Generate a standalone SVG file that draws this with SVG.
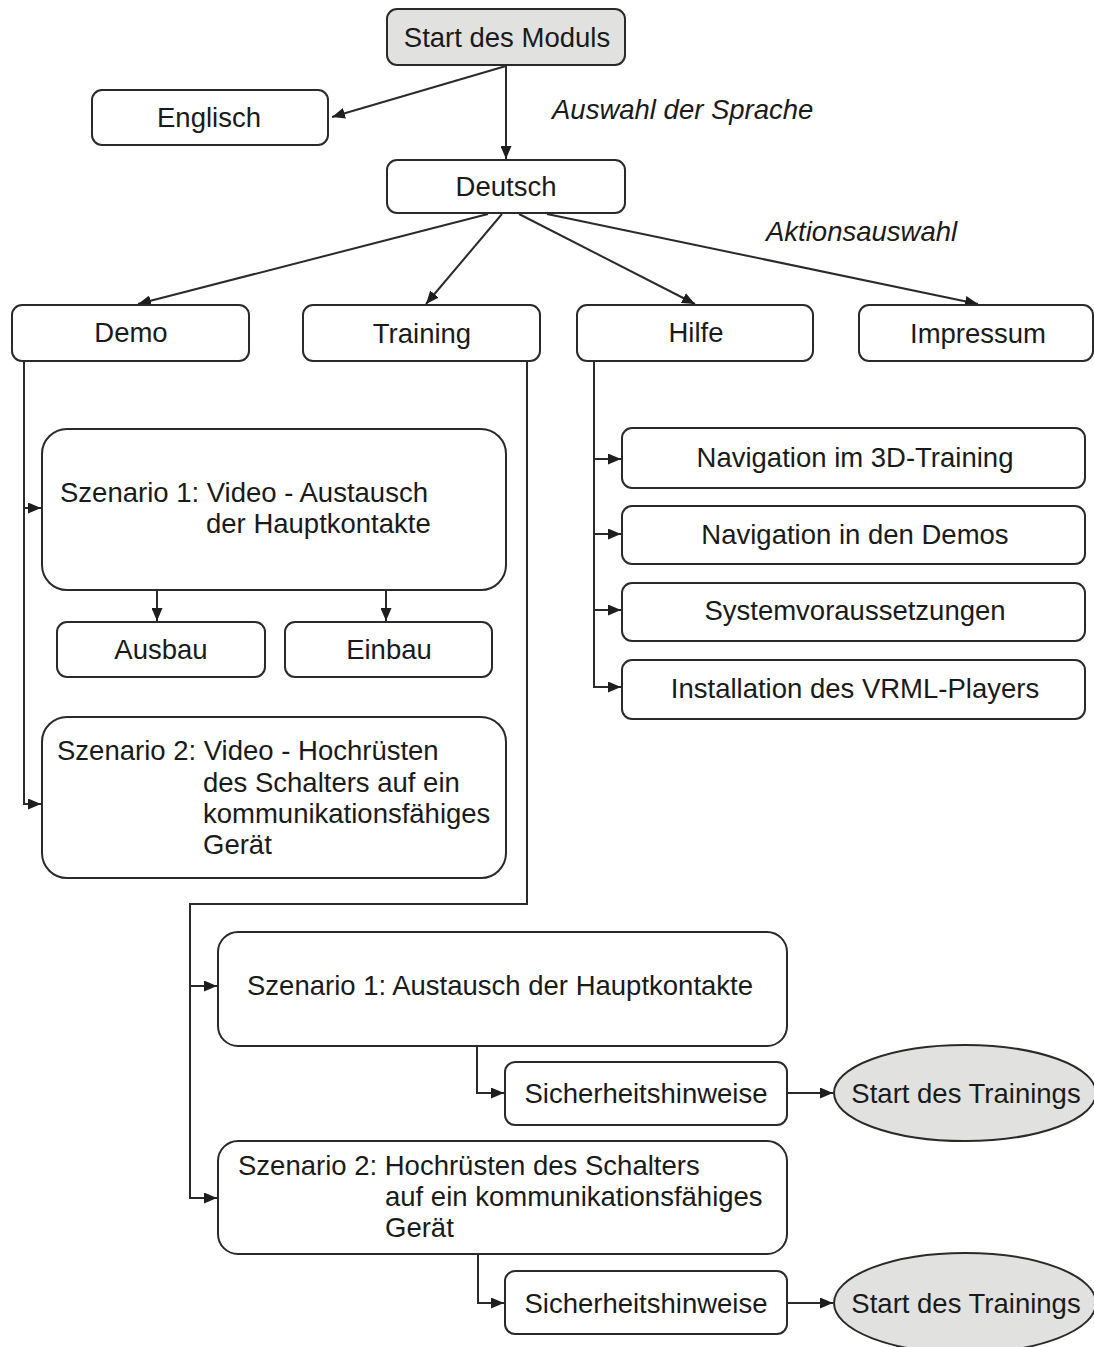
<svg xmlns="http://www.w3.org/2000/svg" width="1094" height="1347" viewBox="0 0 1094 1347">
<defs>
<marker id="ah" markerUnits="userSpaceOnUse" markerWidth="13" markerHeight="11" refX="13" refY="5.5" orient="auto">
<path d="M0,0 L13,5.5 L0,11 z" fill="#1e1e1e"/>
</marker>
<style>
.box{fill:#fff;stroke:#2a2a2a;stroke-width:2}
.gray{fill:#e1e1df;stroke:#2a2a2a;stroke-width:2}
.t{font-family:"Liberation Sans",Arial,sans-serif;font-size:27.5px;fill:#1a1a1a}
.c{text-anchor:middle}
.i{font-style:italic}
.con{fill:none;stroke:#2a2a2a;stroke-width:2}
</style>
</defs>
<rect width="1094" height="1347" fill="#fff"/>

<g id="connectors">
<line class="con" x1="506" y1="66" x2="332" y2="117" marker-end="url(#ah)"/>
<line class="con" x1="506" y1="66" x2="506" y2="159" marker-end="url(#ah)"/>
<line class="con" x1="488" y1="214" x2="138" y2="304" marker-end="url(#ah)"/>
<line class="con" x1="502" y1="214" x2="426" y2="304" marker-end="url(#ah)"/>
<line class="con" x1="519" y1="214" x2="695" y2="304" marker-end="url(#ah)"/>
<line class="con" x1="547" y1="214" x2="978" y2="304" marker-end="url(#ah)"/>
<polyline class="con" points="24,361 24,804 41,804" marker-end="url(#ah)"/>
<line class="con" x1="24" y1="508" x2="41" y2="508" marker-end="url(#ah)"/>
<line class="con" x1="157" y1="590" x2="157" y2="621" marker-end="url(#ah)"/>
<line class="con" x1="386" y1="590" x2="386" y2="621" marker-end="url(#ah)"/>
<polyline class="con" points="527,361 527,904 190,904 190,1198 217,1198" marker-end="url(#ah)"/>
<line class="con" x1="190" y1="986" x2="217" y2="986" marker-end="url(#ah)"/>
<polyline class="con" points="594,361 594,687 621,687" marker-end="url(#ah)"/>
<line class="con" x1="594" y1="459" x2="621" y2="459" marker-end="url(#ah)"/>
<line class="con" x1="594" y1="534" x2="621" y2="534" marker-end="url(#ah)"/>
<line class="con" x1="594" y1="610" x2="621" y2="610" marker-end="url(#ah)"/>
<polyline class="con" points="477,1046 477,1093 504,1093" marker-end="url(#ah)"/>
<line class="con" x1="787" y1="1093" x2="833" y2="1093" marker-end="url(#ah)"/>
<polyline class="con" points="478,1254 478,1303 504,1303" marker-end="url(#ah)"/>
<line class="con" x1="787" y1="1303" x2="833" y2="1303" marker-end="url(#ah)"/>
</g>

<text class="t i" x="552" y="119">Auswahl der Sprache</text>
<text class="t i" x="766" y="241">Aktionsauswahl</text>

<g id="start"><rect class="gray" x="387" y="9" width="238" height="56" rx="10"/><text class="t c" x="507" y="47">Start des Moduls</text></g>
<g id="englisch"><rect class="box" x="92" y="90" width="236" height="55" rx="10"/><text class="t c" x="209" y="127">Englisch</text></g>
<g id="deutsch"><rect class="box" x="387" y="160" width="238" height="53" rx="10"/><text class="t c" x="506" y="196">Deutsch</text></g>
<g id="demo"><rect class="box" x="12" y="305" width="237" height="56" rx="10"/><text class="t c" x="131" y="342">Demo</text></g>
<g id="training"><rect class="box" x="303" y="305" width="237" height="56" rx="10"/><text class="t c" x="422" y="343">Training</text></g>
<g id="hilfe"><rect class="box" x="577" y="305" width="236" height="56" rx="10"/><text class="t c" x="696" y="342">Hilfe</text></g>
<g id="impressum"><rect class="box" x="859" y="305" width="234" height="56" rx="10"/><text class="t c" x="978" y="343">Impressum</text></g>

<g id="nav3d"><rect class="box" x="622" y="428" width="463" height="60" rx="10"/><text class="t c" x="855" y="467">Navigation im 3D-Training</text></g>
<g id="navdemos"><rect class="box" x="622" y="506" width="463" height="58" rx="10"/><text class="t c" x="855" y="544">Navigation in den Demos</text></g>
<g id="system"><rect class="box" x="622" y="583" width="463" height="58" rx="10"/><text class="t c" x="855" y="620">Systemvoraussetzungen</text></g>
<g id="install"><rect class="box" x="622" y="660" width="463" height="59" rx="10"/><text class="t c" x="855" y="698">Installation des VRML-Players</text></g>

<g id="demo-sz1"><rect class="box" x="42" y="429" width="464" height="161" rx="25"/>
<text class="t" x="60" y="502">Szenario 1: Video - Austausch</text>
<text class="t" x="206" y="533">der Hauptkontakte</text></g>
<g id="ausbau"><rect class="box" x="57" y="622" width="208" height="55" rx="10"/><text class="t c" x="161" y="659">Ausbau</text></g>
<g id="einbau"><rect class="box" x="285" y="622" width="207" height="55" rx="10"/><text class="t c" x="389" y="659">Einbau</text></g>
<g id="demo-sz2"><rect class="box" x="42" y="717" width="464" height="161" rx="25"/>
<text class="t" x="57" y="760">Szenario 2: Video - Hochrüsten</text>
<text class="t" x="203" y="792">des Schalters auf ein</text>
<text class="t" x="203" y="823">kommunikationsfähiges</text>
<text class="t" x="203" y="854">Gerät</text></g>

<g id="train-sz1"><rect class="box" x="218" y="932" width="569" height="114" rx="20"/>
<text class="t" x="247" y="995">Szenario 1: Austausch der Hauptkontakte</text></g>
<g id="sicher1"><rect class="box" x="505" y="1062" width="282" height="63" rx="10"/><text class="t c" x="646" y="1103">Sicherheitshinweise</text></g>
<g id="start-train1"><ellipse class="gray" cx="965" cy="1093" rx="131" ry="48"/><text class="t c" x="966" y="1103">Start des Trainings</text></g>

<g id="train-sz2"><rect class="box" x="218" y="1141" width="569" height="113" rx="20"/>
<text class="t" x="238" y="1175">Szenario 2: Hochrüsten des Schalters</text>
<text class="t" x="385" y="1206">auf ein kommunikationsfähiges</text>
<text class="t" x="385" y="1237">Gerät</text></g>
<g id="sicher2"><rect class="box" x="505" y="1271" width="282" height="63" rx="10"/><text class="t c" x="646" y="1313">Sicherheitshinweise</text></g>
<g id="start-train2"><ellipse class="gray" cx="965" cy="1303" rx="131" ry="50"/><text class="t c" x="966" y="1313">Start des Trainings</text></g>
</svg>
